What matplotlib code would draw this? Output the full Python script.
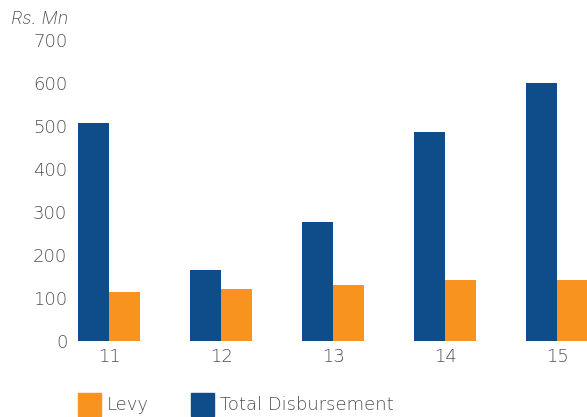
import numpy as np
import matplotlib.pyplot as plt
from matplotlib.patches import Rectangle

plt.rcParams.update({
    "font.family": ["DejaVu Sans"],
    "font.weight": 200,
    "font.size": 13,
})

years = ["11", "12", "13", "14", "15"]
total_disbursement = [508, 165, 277, 485, 601]
levy = [114, 121, 130, 142, 142]

blue = "#0E4D8A"
orange = "#F7931E"
grey = "#505050"

fig = plt.figure(figsize=(5.87, 4.17), dpi=100)
W, H = 587, 417
ax = fig.add_axes([75 / W, (H - 341) / H, (587 - 75) / W, (341 - 40) / H])

x = np.arange(len(years))
width = 0.277
ax.bar(x - width / 2, total_disbursement, width, color=blue)
ax.bar(x + width / 2, levy, width, color=orange)

ax.set_xlim((75 - 109) / 112, (587 - 109) / 112)
ax.set_ylim(0, 700)
ax.set_yticks(range(0, 701, 100))
ax.set_xticks(x)
ax.set_xticklabels(years)
for s in ax.spines.values():
    s.set_visible(False)
ax.tick_params(length=0, colors=grey, labelsize=13)
ax.tick_params(axis="y", pad=5.5)
ax.tick_params(axis="x", pad=5)

# DejaVu has no light oblique, so the unit label uses Inter's thin italic
fig.text(68 / W, 1 - 19 / H, "Rs. Mn", ha="right", va="center",
         family="Inter", style="italic", fontweight=200,
         color=grey, fontsize=13)

# legend drawn by hand along the bottom edge
legend_items = [("Levy", orange, 78), ("Total Disbursement", blue, 191)]
for label, color, px in legend_items:
    fig.patches.append(Rectangle((px / W, 1 / H), 23 / W, 23 / H,
                                 transform=fig.transFigure, color=color))
    fig.text((px + 29) / W, 12 / H, label, ha="left", va="center",
             color=grey, fontsize=13)

fig.savefig("out.png", dpi=100)
